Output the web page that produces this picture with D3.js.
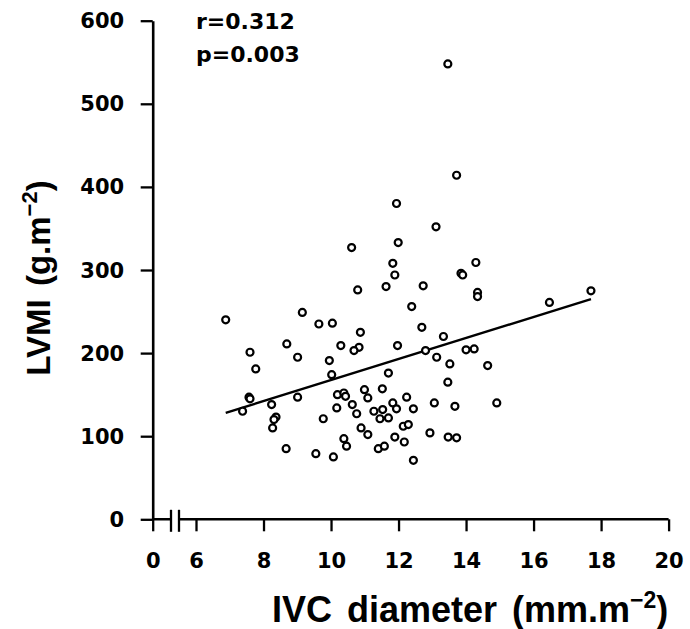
<!DOCTYPE html>
<html>
<head>
<meta charset="utf-8">
<script src="https://cdn.jsdelivr.net/npm/d3@7"></script>
<style>
  body { margin: 0; background: #fff; }
  svg { display: block; }
  .tick-label { font-family: "DejaVu Sans", sans-serif; font-weight: bold; font-size: 21px; fill: #000; }
  .axis-title { font-family: "Liberation Sans", Arial, sans-serif; font-weight: bold; font-size: 36px; fill: #000; }
  .stat { font-family: "DejaVu Sans", sans-serif; font-weight: bold; font-size: 22px; fill: #000; }
</style>
</head>
<body>
<div id="wrapper"></div>
<script>
// IVC diameter (mm.m-2) and LVMI (g.m-2), one value per patient
const ivcDiameter = [
  10.61, 10.79, 9.15, 6.88, 9.64, 10.04, 10.87, 8.69, 7.60, 10.29,
  10.83, 10.68, 9.01, 9.95, 7.77, 10.02, 7.57, 7.60, 9.01, 10.19,
  10.38, 10.43, 10.99, 11.09, 7.38, 8.24, 10.17, 10.63, 10.76, 8.37,
  8.31, 8.27, 9.77, 10.89, 11.09, 10.38, 10.46, 8.67, 9.55, 10.07,
  13.11, 11.99, 11.83, 14.29, 11.89, 13.85, 13.90, 11.63, 12.73, 14.34,
  14.34, 12.39, 12.69, 13.33, 11.97, 12.80, 14.00, 14.24, 13.13, 13.52,
  14.64, 11.70, 13.46, 11.52, 12.24, 11.83, 13.06, 14.91, 13.67, 12.44,
  11.94, 11.27, 11.53, 11.45, 11.70, 12.14, 12.29, 12.93, 13.47, 13.72,
  11.89, 12.17, 11.40, 11.58, 12.44, 13.46, 13.72, 11.94, 16.47, 17.70
]
const lvmi = [
  327, 276, 249, 240, 235, 236, 225, 211, 201, 209,
  207, 203, 195, 191, 181, 174, 147, 145, 147, 150,
  152, 148, 156, 146, 130, 138, 134, 138, 127, 123,
  120, 110, 121, 110, 102, 97, 88, 85, 79, 75,
  352, 333, 308, 309, 294, 296, 294, 280, 281, 273,
  268, 256, 231, 220, 209, 203, 204, 205, 195, 187,
  185, 176, 165, 157, 147, 140, 140, 140, 136, 133,
  133, 130, 132, 121, 122, 112, 114, 104, 99, 98,
  99, 93, 85, 88, 71, 548, 414, 380, 261, 275
]
// regression line end points
const fitX = [6.88, 17.70]
const fitY = [128, 265]

const xTicks = [0, 6, 8, 10, 12, 14, 16, 18, 20]
const yTicks = [0, 100, 200, 300, 400, 500, 600]
const statLines = ["r=0.312", "p=0.003"]

function drawChart() {
  const xAccessor = (d, i) => ivcDiameter[i]
  const yAccessor = (d, i) => lvmi[i]

  let dimensions = {
    width: 690,
    height: 629,
    margin: {
      top: 20.7,
      right: 21.4,
      bottom: 109.7,
      left: 152.7,
    },
  }
  dimensions.boundedWidth = dimensions.width
    - dimensions.margin.left
    - dimensions.margin.right
  dimensions.boundedHeight = dimensions.height
    - dimensions.margin.top
    - dimensions.margin.bottom

  const wrapper = d3.select("#wrapper")
    .append("svg")
    .attr("width", dimensions.width)
    .attr("height", dimensions.height)
  const bounds = wrapper.append("g")
    .attr("transform", `translate(${dimensions.margin.left}, ${dimensions.margin.top})`)

  // broken x axis: 0 sits at the origin, then 6..20 runs linearly
  const gapWidth = 43.3
  const xScale = d3.scaleLinear()
    .domain([0, 6, 20])
    .range([0, gapWidth, dimensions.boundedWidth])
  const yScale = d3.scaleLinear()
    .domain([0, 600])
    .range([dimensions.boundedHeight, 0])

  // y axis
  const yAxis = bounds.append("g")
    .call(d3.axisLeft(yScale)
      .tickValues(yTicks)
      .tickSize(12)
      .tickSizeOuter(0)
      .tickPadding(16.5))
  yAxis.select(".domain").attr("stroke-width", 2.6)
  yAxis.selectAll(".tick line").attr("stroke-width", 2.3)
  yAxis.selectAll(".tick text")
    .attr("class", "tick-label")
    .attr("dy", null)
    .attr("dominant-baseline", "central")

  // x axis, domain line drawn by hand so the break shows
  const xAxis = bounds.append("g")
    .attr("transform", `translate(0, ${dimensions.boundedHeight})`)
    .call(d3.axisBottom(xScale)
      .tickValues(xTicks)
      .tickSize(12)
      .tickSizeOuter(0))
  xAxis.select(".domain").remove()
  xAxis.selectAll(".tick line").attr("stroke-width", 2.3)
  xAxis.selectAll(".tick text")
    .attr("class", "tick-label")
    .attr("y", 42)
    .attr("dy", null)
    .attr("dominant-baseline", "central")

  const breakA = 18.3
  const breakB = 26.3
  xAxis.append("path")
    .attr("d", `M0,0H${breakA}M${breakB},0H${dimensions.boundedWidth}`)
    .attr("stroke", "#000")
    .attr("stroke-width", 2.6)
  xAxis.selectAll(".break")
    .data([breakA, breakB])
    .enter().append("line")
    .attr("class", "break")
    .attr("x1", d => d).attr("x2", d => d)
    .attr("y1", -9.5).attr("y2", 12.5)
    .attr("stroke", "#000")
    .attr("stroke-width", 2.3)

  // regression line
  bounds.append("line")
    .attr("x1", xScale(fitX[0]))
    .attr("y1", yScale(fitY[0]))
    .attr("x2", xScale(fitX[1]))
    .attr("y2", yScale(fitY[1]))
    .attr("stroke", "#000")
    .attr("stroke-width", 2.4)

  // points
  bounds.selectAll(".dot")
    .data(ivcDiameter)
    .enter().append("circle")
    .attr("class", "dot")
    .attr("cx", (d, i) => xScale(xAccessor(d, i)))
    .attr("cy", (d, i) => yScale(yAccessor(d, i)))
    .attr("r", 3.5)
    .attr("fill", "#fff")
    .attr("stroke", "#000")
    .attr("stroke-width", 2.2)

  // r and p values
  wrapper.selectAll(".stat")
    .data(statLines)
    .enter().append("text")
    .attr("class", "stat")
    .attr("x", 196)
    .attr("y", (d, i) => 29 + i * 32.5)
    .text(d => d)

  // axis titles
  const xTitle = wrapper.append("text")
    .attr("class", "axis-title")
    .attr("x", 272)
    .attr("y", 622)
    .style("word-spacing", "5px")
  xTitle.append("tspan").text("IVC diameter (mm.m")
  xTitle.append("tspan").attr("dy", -14).style("font-size", "23px").text("\u22122")
  xTitle.append("tspan").attr("dy", 14).text(")")

  const yTitle = wrapper.append("text")
    .attr("class", "axis-title")
    .attr("transform", "translate(50, 278) rotate(-90)")
    .attr("text-anchor", "middle")
    .style("font-size", "33px")
    .style("word-spacing", "4px")
  yTitle.append("tspan").text("LVMI (g.m")
  yTitle.append("tspan").attr("dy", -13).style("font-size", "22px").text("\u22122")
  yTitle.append("tspan").attr("dy", 13).text(")")
}
drawChart()
</script>
</body>
</html>
